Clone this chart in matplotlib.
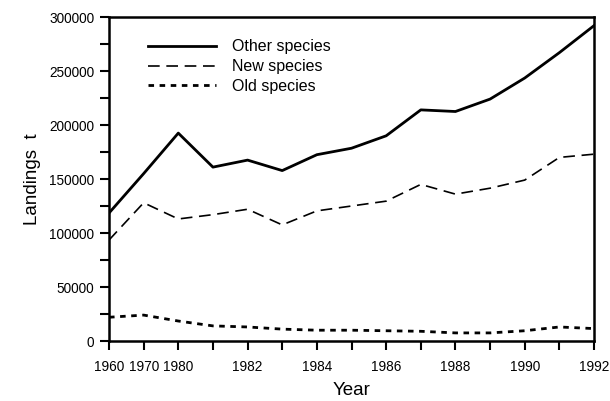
import matplotlib
matplotlib.use("Agg")
import matplotlib.pyplot as plt
import numpy as np

years = [1960, 1970, 1980, 1981, 1982, 1983, 1984, 1985, 1986, 1987, 1988, 1989, 1990, 1991, 1992]
other_species = [118500, 155000, 192500, 161000, 167500, 157800, 172500, 178500, 190000, 214000, 212500, 224000, 243500, 267000, 292000]
new_species = [93500, 128000, 113000, 117000, 122000, 107500, 120500, 125000, 129500, 145000, 136000, 141500, 149000, 170000, 173000]
old_species = [22000, 24000, 18500, 14000, 13000, 11000, 10000, 10000, 9500, 9000, 7500, 7500, 9500, 13000, 11500]
tick_labels = ["1960", "1970", "1980", "", "1982", "", "1984", "", "1986", "", "1988", "", "1990", "", "1992"]

plt.rcParams['font.family'] = ['Liberation Sans', 'DejaVu Sans']

fig = plt.figure(figsize=(6.1, 4.01), dpi=100)
ax = fig.add_axes([0.1787, 0.1496, 0.7951, 0.808])

x = np.arange(len(years))
ax.plot(x, other_species, color='black', lw=2.0, ls='-', label='Other species')
ax.plot(x, new_species, color='black', lw=1.2, ls=(0, (7, 4)), label='New species')
ax.plot(x, old_species, color='black', lw=2.0, ls=(0, (2, 2)), label='Old species')

ax.set_xlim(0, len(years) - 1)
ax.set_ylim(0, 300000)
ax.set_xticks(x)
ax.set_xticklabels(tick_labels)
ax.set_yticks(np.arange(0, 300001, 50000))
ax.set_yticks(np.arange(25000, 300000, 50000), minor=True)
ax.tick_params(axis='both', which='both', direction='out', width=1.5, length=6.5, labelsize=9.8)
ax.tick_params(axis='x', pad=7)
ax.tick_params(axis='y', pad=4)
for s in ax.spines.values():
    s.set_linewidth(1.8)

ax.set_xlabel('Year', fontsize=13.5, labelpad=6)
ax.set_ylabel('Landings  t', fontsize=13.5, labelpad=6)

leg = ax.legend(loc='upper left', bbox_to_anchor=(0.05, 0.975), frameon=False, fontsize=11.5,
                handlelength=4.3, handletextpad=1.0, labelspacing=0.3)

fig.savefig('out.png', dpi=100)
